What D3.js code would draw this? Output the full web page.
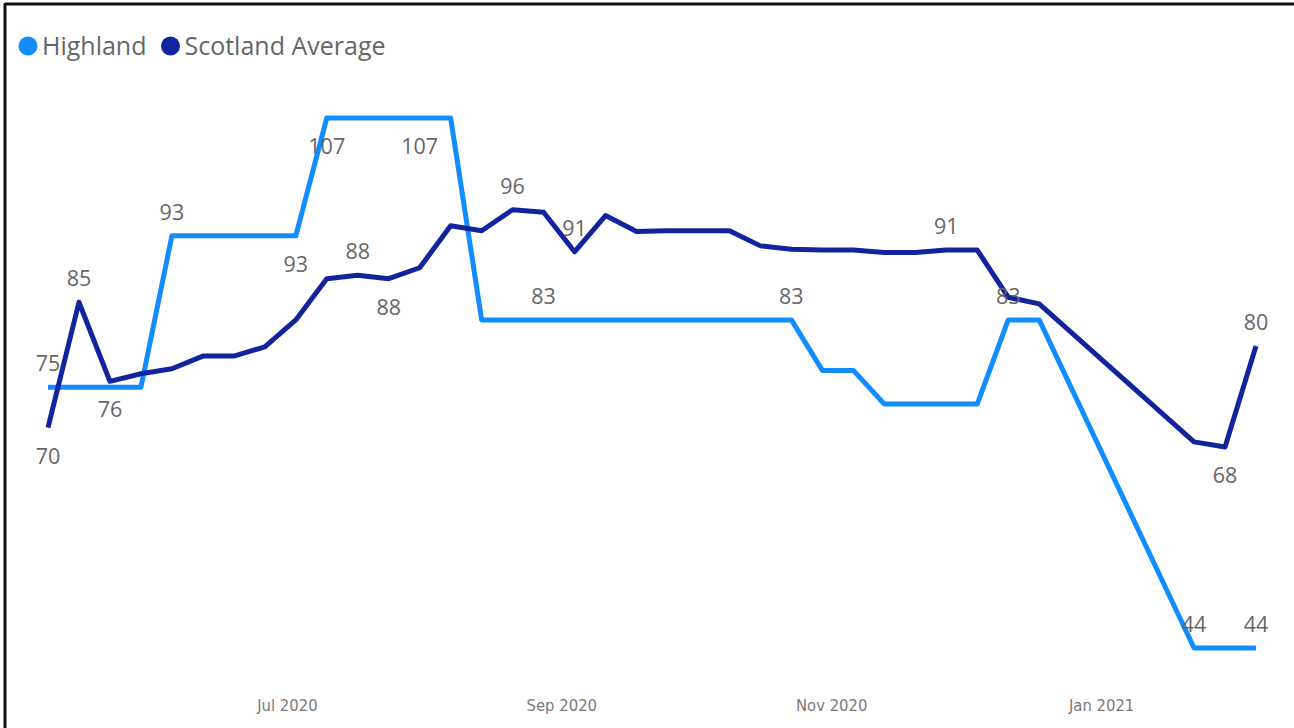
<!DOCTYPE html>
<html>
<head>
<meta charset="utf-8">
<script src="https://cdn.jsdelivr.net/npm/d3@7"></script>
<style>
  body { margin: 0; background: #fff; }
  svg { display: block; }
</style>
</head>
<body>
<svg width="1294" height="728"></svg>
<script>
// weekly dates (no data over the holiday weeks, the line just joins across)
const dates = [
  "2020-05-08","2020-05-15","2020-05-22","2020-05-29","2020-06-05","2020-06-12","2020-06-19","2020-06-26",
  "2020-07-03","2020-07-10","2020-07-17","2020-07-24","2020-07-31","2020-08-07","2020-08-14","2020-08-21",
  "2020-08-28","2020-09-04","2020-09-11","2020-09-18","2020-09-25","2020-10-02","2020-10-09","2020-10-16",
  "2020-10-23","2020-10-30","2020-11-06","2020-11-13","2020-11-20","2020-11-27","2020-12-04","2020-12-11",
  "2020-12-18","2021-01-22","2021-01-29","2021-02-05"
];
const highland = [
  75,75,75,75,93,93,93,93,
  93,107,107,107,107,107,83,83,
  83,83,83,83,83,83,83,83,
  83,77,77,73,73,73,73,83,
  83,44,44,44
];
const scotland = [
  70.2,85.1,75.7,76.6,77.2,78.7,78.7,79.8,
  83.0,87.9,88.3,87.9,89.2,94.2,93.6,96.1,
  95.8,91.1,95.4,93.5,93.6,93.6,93.6,91.8,
  91.4,91.3,91.3,91.0,91.0,91.3,91.3,85.7,
  84.9,68.5,67.9,79.9
];
// which points carry a data label, and where (above / below)
const highlandLabels = [[0,"up"],[4,"up"],[8,"down"],[9,"down"],[12,"down"],[16,"up"],[24,"up"],[31,"up"],[33,"up"],[35,"up"]];
const scotlandLabels = [[0,"down"],[1,"up"],[2,"down"],[10,"up"],[11,"down"],[15,"up"],[17,"up"],[29,"up"],[34,"down"],[35,"up"]];
const seriesNames = ["Highland", "Scotland Average"];
const colors = ["#118DFF", "#12239E"];
const tickDates = ["2020-07-01", "2020-09-01", "2020-11-01", "2021-01-01"];

const svg = d3.select("svg");
const parse = d3.timeParse("%Y-%m-%d");

// frame: top and left edges only
svg.append("line").attr("x1", 5).attr("x2", 1294).attr("y1", 4).attr("y2", 4)
  .attr("stroke", "#111").attr("stroke-width", 3);
svg.append("line").attr("x1", 5).attr("x2", 5).attr("y1", 3).attr("y2", 728)
  .attr("stroke", "#111").attr("stroke-width", 3);

const x = d3.scaleTime()
  .domain([parse(dates[0]), parse(dates[dates.length - 1])])
  .range([48, 1256]);
const y = d3.scaleLinear().domain([44, 107]).range([648, 118]);

// x axis, labels only
const xAxis = d3.axisBottom(x)
  .tickValues(tickDates.map(parse))
  .tickFormat(d3.timeFormat("%b %Y"))
  .tickSize(0);
const gx = svg.append("g").attr("transform", "translate(0,696)").call(xAxis);
gx.select(".domain").remove();
gx.selectAll("text")
  .attr("font-family", "DejaVu Sans")
  .style("font-stretch", "condensed")
  .attr("font-size", 16.5)
  .attr("fill", "#7a7a7a");

const line = d3.line()
  .x((d, i) => x(parse(dates[i])))
  .y(d => y(d));

[highland, scotland].forEach((vals, s) => {
  svg.append("path")
    .datum(vals)
    .attr("fill", "none")
    .attr("stroke", colors[s])
    .attr("stroke-width", 5)
    .attr("stroke-linejoin", "round")
    .attr("d", line);
});

// data labels
[[highland, highlandLabels], [scotland, scotlandLabels]].forEach(([vals, labs]) => {
  svg.append("g").selectAll("text")
    .data(labs).enter()
    .append("text")
    .attr("x", d => x(parse(dates[d[0]])))
    .attr("y", d => y(vals[d[0]]) + (d[1] == "up" ? -16 : 36))
    .attr("text-anchor", "middle")
    .attr("font-family", "Open Sans")
    .attr("font-size", 21.5)
    .attr("fill", "#666")
    .text(d => Math.round(vals[d[0]]));
});

// legend
const legend = svg.append("g").attr("transform", "translate(0,46)");
let lx = 28;
seriesNames.forEach((name, i) => {
  legend.append("circle").attr("cx", lx).attr("cy", 0).attr("r", 9.5).attr("fill", colors[i]);
  const t = legend.append("text")
    .attr("x", lx + 14).attr("y", 8.5)
    .attr("font-family", "Open Sans")
    .attr("font-size", 25)
    .attr("fill", "#666")
    .text(name);
  lx += 14 + t.node().getComputedTextLength() + 24;
});
</script>
</body>
</html>
